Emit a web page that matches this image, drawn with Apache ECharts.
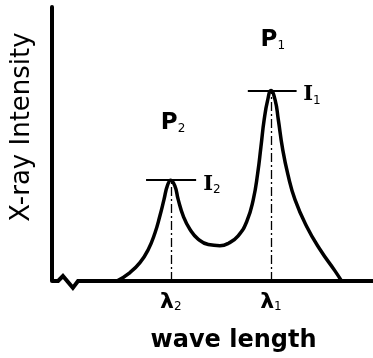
<!DOCTYPE html>
<html>
<head>
<meta charset="utf-8">
<script src="https://cdn.jsdelivr.net/npm/echarts@6/dist/echarts.min.js"></script>
<style>
  html, body { margin: 0; padding: 0; background: #fff; }
  #chart { width: 373px; height: 358px; }
</style>
</head>
<body>
<div id="chart"></div>
<script>
// spectrum curve (arbitrary units)
const curveX = [20.2, 24.3, 27.4, 30.0, 32.1, 33.6, 34.9, 35.9, 37.0, 38.3, 39.3, 40.9, 43.0, 45.6, 48.7, 52.3, 55.0, 58.0, 60.7, 62.7, 64.1, 65.1, 66.1, 67.2, 68.2, 69.5, 70.5, 71.8, 73.5, 75.7, 79.3, 83.5, 88.2, 90.2];
const curveY = [0, 3.1, 6.7, 11.5, 17.6, 23.7, 29.8, 34.6, 36.8, 34.6, 29.8, 23.7, 18.8, 15.2, 13.3, 12.9, 13.8, 16.5, 21.8, 29.7, 39.5, 49.1, 58.9, 66.1, 69.5, 66.1, 58.9, 48.5, 38.8, 29.7, 20.0, 11.5, 3.6, 0];

// baseline with the axis break
const baseX = [0, 1.9, 3.4, 6.5, 8.1, 100];
const baseY = [0, 0, 1.8, -2.5, 0, 0];

// peaks: lambda_2, lambda_1
const peakX = [37.0, 68.2];
const peakY = [36.9, 69.6];
const levelFrom = [29.3, 61.0];
const levelTo = [44.9, 76.2];
const lambdaLabels = ['{l|λ}{s|2}', '{l|λ}{s|1}'];

// annotations
const pLabels = ['{p|P}{s|2}', '{p|P}{s|1}'];
const pX = [37.7, 68.8];
const pY = [57.8, 88.0];
const iLabels = ['{i|I}{s|2}', '{i|I}{s|1}'];
const iX = [49.8, 81.0];
const iY = [35.3, 68.0];

const chart = echarts.init(document.getElementById('chart'));

const toPairs = (xs, ys) => xs.map((x, i) => [x, ys[i]]);

const markLines = [];
peakX.forEach((x, i) => {
  markLines.push([
    { coord: [x, 0], lineStyle: { type: [9, 3, 2, 3], width: 1.3 } },
    { coord: [x, peakY[i]] }
  ]);
  markLines.push([
    { coord: [levelFrom[i], peakY[i]], lineStyle: { type: 'solid', width: 2 } },
    { coord: [levelTo[i], peakY[i]] }
  ]);
});

const option = {
  animation: false,
  grid: { left: 52, right: 0, top: 7, bottom: 76 },
  xAxis: {
    type: 'value',
    min: 0,
    max: 100,
    name: 'wave length',
    nameLocation: 'middle',
    nameGap: 48,
    nameTextStyle: {
      fontFamily: 'DejaVu Sans',
      fontWeight: 'bold',
      fontSize: 24,
      color: '#000',
      padding: [0, 0, 0, 42]
    },
    axisLine: { show: false },
    axisTick: { show: false },
    splitLine: { show: false },
    axisLabel: {
      customValues: peakX,
      margin: 10,
      color: '#000',
      formatter: (v) => lambdaLabels[peakX.indexOf(v)] || '',
      rich: {
        l: { fontFamily: 'DejaVu Sans', fontWeight: 'bold', fontSize: 22, color: '#000' },
        s: { fontFamily: 'DejaVu Sans', fontSize: 12, color: '#000', verticalAlign: 'bottom', padding: [10, 0, 0, 0] }
      }
    }
  },
  yAxis: {
    type: 'value',
    min: 0,
    max: 100,
    name: 'X-ray Intensity',
    nameLocation: 'middle',
    nameGap: 17,
    nameRotate: 90,
    nameTextStyle: {
      fontFamily: 'DejaVu Sans',
      fontSize: 26,
      color: '#000',
      padding: [0, 0, 0, 34]
    },
    axisLine: { show: true, lineStyle: { color: '#000', width: 4 } },
    axisTick: { show: false },
    axisLabel: { show: false },
    splitLine: { show: false }
  },
  series: [
    {
      type: 'line',
      data: toPairs(baseX, baseY),
      symbol: 'none',
      clip: false,
      lineStyle: { color: '#000', width: 4, join: 'miter' }
    },
    {
      type: 'line',
      data: toPairs(curveX, curveY),
      symbol: 'none',
      smooth: 0.5,
      clip: false,
      lineStyle: { color: '#000', width: 3.5 },
      markLine: {
        silent: true,
        symbol: ['none', 'none'],
        label: { show: false },
        lineStyle: { color: '#000' },
        data: markLines
      }
    },
    {
      type: 'scatter',
      symbolSize: 0,
      silent: true,
      itemStyle: { opacity: 1 },
      data: toPairs(pX, pY).concat(toPairs(iX, iY)),
      label: {
        show: true,
        position: 'inside',
        color: '#000',
        formatter: (p) => pLabels.concat(iLabels)[p.dataIndex],
        rich: {
          p: { fontFamily: 'DejaVu Sans', fontWeight: 'bold', fontSize: 23, color: '#000' },
          i: { fontFamily: 'DejaVu Serif', fontWeight: 'bold', fontSize: 21, color: '#000' },
          s: { fontFamily: 'DejaVu Sans', fontSize: 12, color: '#000', verticalAlign: 'bottom', padding: [12, 0, 0, 0] }
        }
      }
    }
  ]
};

chart.setOption(option);
</script>
</body>
</html>
